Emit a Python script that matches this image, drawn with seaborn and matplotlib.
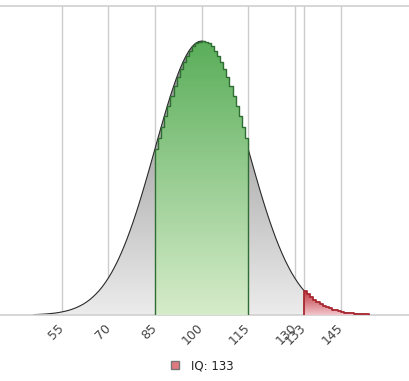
"""
IQ distribution chart: normal curve with highlighted average band and the user's score tail.
"""

import numpy as np
import matplotlib.pyplot as plt
import seaborn as sns
from matplotlib.colors import LinearSegmentedColormap
from matplotlib.patches import Patch

# IQ scores (x) and density in percent
IQ = list(range(46, 155))
DENSITY = [
    0.0041, 0.0052, 0.0065, 0.0082, 0.0103, 0.0128, 0.0159, 0.0196, 0.0241,  # 46-54
    0.0296, 0.0360, 0.0437, 0.0528, 0.0635, 0.0760, 0.0906, 0.107, 0.127,   # 55-63
    0.149, 0.175, 0.204, 0.236, 0.273, 0.314, 0.360, 0.410, 0.466,          # 64-72
    0.526, 0.592, 0.663, 0.739, 0.821, 0.907, 0.998, 1.093, 1.192,          # 73-81
    1.295, 1.399, 1.506, 1.613, 1.721, 1.827, 1.931, 2.033, 2.130,          # 82-90
    2.221, 2.307, 2.385, 2.455, 2.516, 2.567, 2.607, 2.636, 2.654,          # 91-99
    2.660,                                                                  # 100
    2.654, 2.636, 2.607, 2.567, 2.516, 2.455, 2.385, 2.307, 2.221,          # 101-109
    2.130, 2.033, 1.931, 1.827, 1.721, 1.613, 1.506, 1.399, 1.295,          # 110-118
    1.192, 1.093, 0.998, 0.907, 0.821, 0.739, 0.663, 0.592, 0.526,          # 119-127
    0.466, 0.410, 0.360, 0.314, 0.273, 0.236, 0.204, 0.175, 0.149,          # 128-136
    0.127, 0.107, 0.0906, 0.0760, 0.0635, 0.0528, 0.0437, 0.0360, 0.0296,  # 137-145
    0.0241, 0.0196, 0.0159, 0.0128, 0.0103, 0.0082, 0.0065, 0.0052, 0.0041,  # 146-154
]

AVERAGE_BAND = (85, 115)
USER_IQ = 133
TICKS = [55, 70, 85, 100, 115, 130, 133, 145]
LEGEND_LABEL = "IQ: 133"


def gradient_fill(ax, collection, top_color, bottom_color, x0, x1, y_top, zorder):
    """Paint a vertical gradient clipped to a fill_between collection."""
    cmap = LinearSegmentedColormap.from_list("grad", [bottom_color, top_color])
    grad = np.linspace(0, 1, 256).reshape(-1, 1)
    im = ax.imshow(grad, cmap=cmap, aspect="auto", origin="lower",
                   extent=[x0, x1, 0, y_top], zorder=zorder, interpolation="bilinear")
    im.set_clip_path(collection.get_paths()[0], transform=ax.transData)
    return im


def step_series(lo, hi):
    """x/y for a post-step outline from lo to hi, closing at zero."""
    xs = [x for x in IQ if lo <= x <= hi]
    ys = [DENSITY[IQ.index(x)] for x in xs[:-1]] + [0.0]
    return np.array(xs, dtype=float), np.array(ys)


def main():
    sns.set_style("white")
    fig = plt.figure(figsize=(4.09, 3.81), dpi=100)
    ax = fig.add_axes([0.0, 1 - 315 / 381, 1.0, (315 - 6) / 381])

    x = np.array(IQ, dtype=float)
    y = np.array(DENSITY)

    # whole curve, grey gradient
    grey = ax.fill_between(x, 0, y, facecolor="none", edgecolor="none")
    gradient_fill(ax, grey, "#888888", "#ececec", x[0], x[-1], y.max(), 1)
    sns.lineplot(x=x, y=y, ax=ax, color="#2a2a2a", linewidth=0.8, zorder=2)

    # average band as steps, green gradient
    gx, gy = step_series(*AVERAGE_BAND)
    green = ax.fill_between(gx, 0, gy, step="post", facecolor="none", edgecolor="none")
    gradient_fill(ax, green, "#5aae5a", "#d6ecca", gx[0], gx[-1], y.max(), 3)
    ax.step(np.r_[gx[0], gx], np.r_[0, gy], where="post", color="#2f6e33",
            linewidth=1.0, zorder=4)

    # user's score and above, red steps
    rx, ry = step_series(USER_IQ, IQ[-1])
    red = ax.fill_between(rx, 0, ry, step="post", facecolor="none", edgecolor="none")
    gradient_fill(ax, red, "#c0323c", "#f0c6ca", rx[0], rx[-1], ry.max(), 3)
    ax.step(np.r_[rx[0], rx], np.r_[0, ry], where="post", color="#a82730",
            linewidth=1.3, zorder=4)

    ax.set_xlim(35.1, 166.8)
    ax.set_ylim(0, 3.0)
    ax.set_yticks([])
    ax.set_xticks(TICKS)
    ax.set_xticklabels([str(t) for t in TICKS], rotation=45, ha="right", va="center",
                       rotation_mode="anchor", fontsize=9, color="#444444")
    ax.tick_params(axis="x", length=0, pad=8)
    ax.grid(axis="x", color="#cccccc", linewidth=1.0, zorder=0)
    ax.set_axisbelow(True)

    for side in ["left", "right"]:
        ax.spines[side].set_visible(False)
    for side in ["top", "bottom"]:
        ax.spines[side].set_color("#d0d0d0")
        ax.spines[side].set_linewidth(1.2)

    handle = Patch(facecolor="#e07a7e", edgecolor="#777777", linewidth=1.0)
    fig.legend([handle], [LEGEND_LABEL], loc="center", bbox_to_anchor=(0.495, 15 / 381),
               frameon=False, fontsize=8.5, handlelength=0.65, handleheight=0.65,
               handletextpad=1.0, labelcolor="#222222")

    fig.savefig("out.png", dpi=100)
    plt.close(fig)


if __name__ == "__main__":
    main()
